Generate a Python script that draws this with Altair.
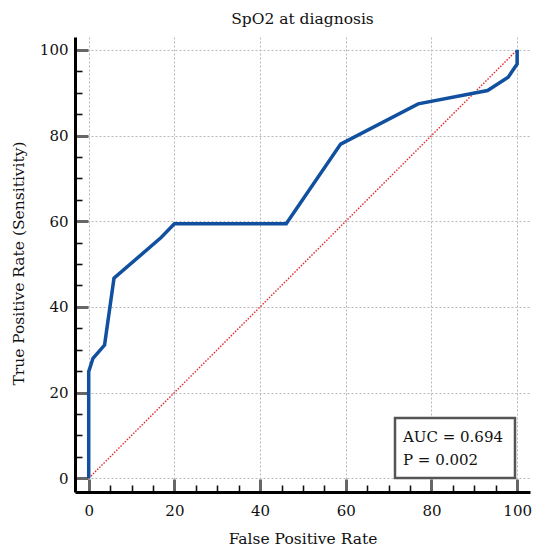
import altair as alt
import pandas as pd

# ---- data ----
fpr = [0, 0, 1.0, 3.7, 5.9, 16.9, 20.0, 46.1, 58.8, 76.9, 93.1, 97.9, 100, 100]
tpr = [0, 24.9, 28.0, 31.1, 46.7, 56.2, 59.4, 59.4, 78.0, 87.4, 90.5, 93.6, 96.7, 100]
ref_x = [0, 100]
ref_y = [0, 100]
tick_values = list(range(0, 101, 5))
title_text = "SpO2 at diagnosis"
x_title = "False Positive Rate"
y_title = "True Positive Rate (Sensitivity)"
annotation = ["AUC = 0.694", "P = 0.002"]

FONT = "DejaVu Serif"
MAJOR = "datum.value % 20 === 0"

roc = pd.DataFrame({"fpr": fpr, "tpr": tpr, "order": list(range(len(fpr)))})
diag = pd.DataFrame({"fpr": ref_x, "tpr": ref_y})
one = pd.DataFrame({"k": [0]})


def make_axis(title, label_padding, **kw):
    return alt.Axis(
        values=tick_values,
        title=title,
        labelExpr=f"{MAJOR} ? datum.label : ''",
        labelFont=FONT,
        labelFontSize=15,
        labelColor="#111111",
        labelPadding=label_padding,
        labelFlush=False,
        labelOverlap=False,
        tickSize=alt.ExprRef(expr=f"{MAJOR} ? -13 : -7"),
        tickColor={"condition": {"test": MAJOR, "value": "#666666"}, "value": "#111111"},
        tickWidth={"condition": {"test": MAJOR, "value": 3}, "value": 1.6},
        domainColor="#000000",
        domainWidth=3,
        grid=True,
        gridColor="#b8b8b8",
        gridDash=[2, 2],
        gridWidth=1,
        gridOpacity={"condition": {"test": MAJOR, "value": 1}, "value": 0},
        titleFont=FONT,
        titleFontSize=15.5,
        titleFontWeight="normal",
        titleColor="#111111",
        titleBaseline="alphabetic",
        **kw,
    )


x_axis = make_axis(x_title, 24, titleY=51)
y_axis = make_axis(y_title, 20, titleX=-52, titleY=226, titleAngle=-90, titleAlign="center")

xs = alt.Scale(domain=[-3.2, 103], nice=False, zero=False)
ys = alt.Scale(domain=[-3.2, 103], nice=False, zero=False)

diag_line = alt.Chart(diag).mark_line(
    color="#e02626", strokeWidth=1.4, strokeDash=[1.5, 1.5]
).encode(
    x=alt.X("fpr:Q", scale=xs, axis=x_axis),
    y=alt.Y("tpr:Q", scale=ys, axis=y_axis),
)

roc_line = alt.Chart(roc).mark_line(
    color="#11509f", strokeWidth=3.5
).encode(
    x=alt.X("fpr:Q", scale=xs, axis=x_axis),
    y=alt.Y("tpr:Q", scale=ys, axis=y_axis),
    order="order:Q",
)

box = alt.Chart(one).mark_rect(
    fill="white", stroke="#555555", strokeWidth=2.5
).encode(
    x=alt.value(320), x2=alt.value(440), y=alt.value(381), y2=alt.value(441)
)

txt = alt.Chart(one).mark_text(
    text=annotation, align="left", baseline="alphabetic", font=FONT,
    fontSize=15, lineHeight=23.3, color="#111111"
).encode(x=alt.value(328), y=alt.value(405))

chart = alt.layer(diag_line, roc_line, box, txt).properties(
    width=455,
    height=455,
    title=alt.TitleParams(
        text=title_text, font=FONT, fontSize=15.5, fontWeight="normal",
        color="#111111", anchor="middle", frame="group",
        baseline="alphabetic", offset=-2.5,
    ),
    autosize=alt.AutoSizeParams(type="none"),
    padding={"left": 67, "top": 29, "right": 12, "bottom": 55},
).configure_view(stroke=None)

chart.save("out.html", embed_options={"renderer": "svg", "actions": False})
